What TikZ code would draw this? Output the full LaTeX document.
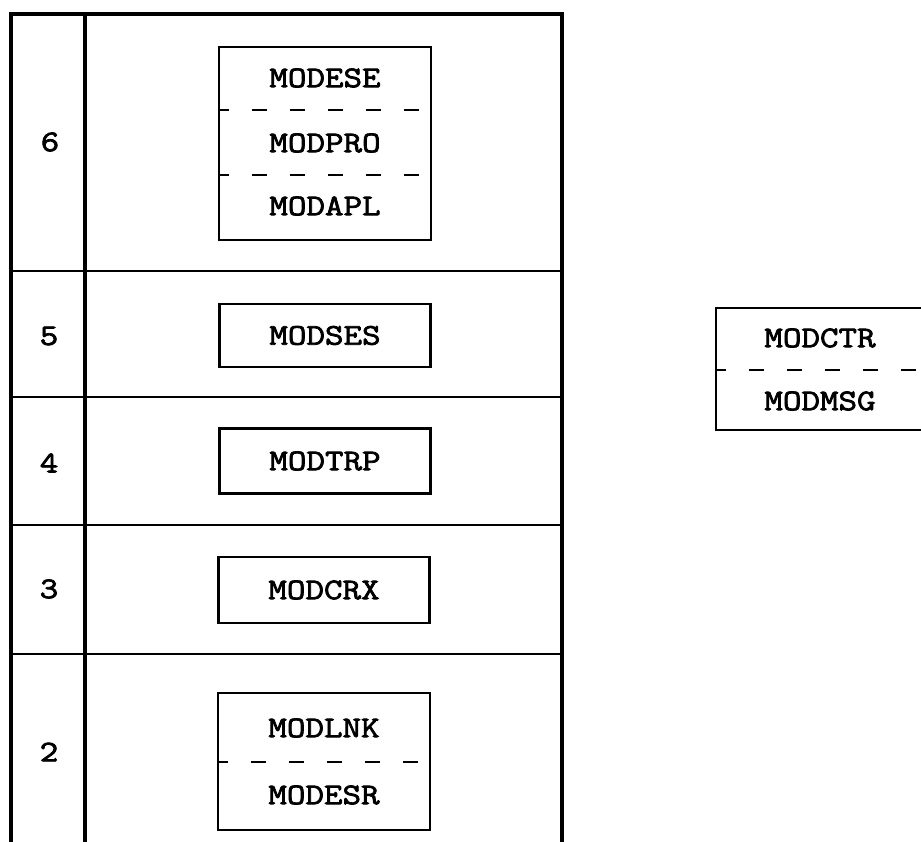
\documentclass[tikz,border=0pt]{standalone}
\usepackage{fontspec}
\newfontfamily\lbl[FakeStretch=1.2,FakeBold=2.5]{Latin Modern Mono}
\tikzset{
  boxn/.style={draw, line width=2.2pt, inner sep=0pt},
  lbltext/.style={font=\lbl\fontsize{30}{30}\selectfont, inner sep=0pt, anchor=center},
  thin/.style={line width=2pt},
  thick/.style={line width=3.2pt},
  dsh/.style={line width=2pt, dash pattern=on 15pt off 23pt, dash phase=4pt}
}
\begin{document}
\begin{tikzpicture}[x=1pt,y=-1pt]
\useasboundingbox (0,0) rectangle (921,842);
% table frame
\coordinate (tl) at (11,14);
\coordinate (tr) at (562,14);
\coordinate (bl) at (11,842);
\coordinate (br) at (562,842);
\coordinate (dt) at (85,14);
\coordinate (db) at (85,842);
\draw[thick] (bl) -- (tl) -- (tr) -- (br);
\draw[thick] (dt) -- (db);
% row separators
\foreach \n/\y in {a/271,b/397,c/525,d/654}{
  \coordinate (\n l) at (11,\y);
  \coordinate (\n r) at (562,\y);
  \draw[thin] (\n l) -- (\n r);
}
% row labels
\node[lbltext] (r6) at (50,142) {6};
\node[lbltext] (r5) at (49,336) {5};
\node[lbltext] (r4) at (49,463) {4};
\node[lbltext] (r3) at (49,589) {3};
\node[lbltext] (r2) at (49,752) {2};
% layer 6 box
\node[boxn, minimum width=212pt, minimum height=193pt] (b6) at (325,143.5) {};
\node[lbltext] (t6a) at (325,78) {MODESE};
\node[lbltext] (t6b) at (325,143) {MODPRO};
\node[lbltext] (t6c) at (325,206) {MODAPL};
\draw[dsh] (b6.west |- 0,110) -- (b6.east |- 0,110);
\draw[dsh] (b6.west |- 0,175) -- (b6.east |- 0,175);
% layer 5
\node[boxn, minimum width=211pt, minimum height=63pt] (b5) at (325,335.5) {};
\node[lbltext] (t5) at (b5) {MODSES};
% layer 4
\node[boxn, minimum width=211pt, minimum height=65pt] (b4) at (325,461) {};
\node[lbltext] (t4) at (b4) {MODTRP};
% layer 3
\node[boxn, minimum width=211pt, minimum height=66pt] (b3) at (324,590) {};
\node[lbltext] (t3) at (b3) {MODCRX};
% layer 2
\node[boxn, minimum width=212pt, minimum height=137pt] (b2) at (324,761.5) {};
\node[lbltext] (t2a) at (324,728) {MODLNK};
\node[lbltext] (t2b) at (324,795) {MODESR};
\draw[dsh] (b2.west |- 0,762) -- (b2.east |- 0,762);
% side box
\node[boxn, minimum width=208pt, minimum height=122pt] (bs) at (820,369) {};
\node[lbltext] (tsa) at (820,338) {MODCTR};
\node[lbltext] (tsb) at (820,401) {MODMSG};
\draw[dsh] (bs.west |- 0,370) -- (bs.east |- 0,370);
\end{tikzpicture}
\end{document}
